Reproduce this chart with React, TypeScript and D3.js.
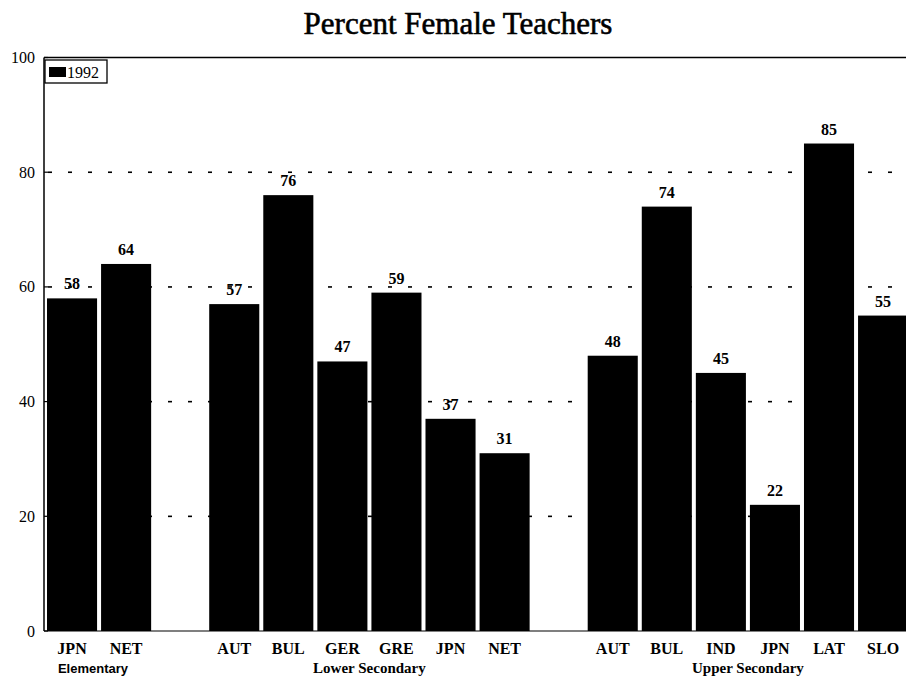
import React from "react";
import * as d3 from "d3";

const groups = ["Elementary", "Lower Secondary", "Upper Secondary"];
const elementaryCats = ["JPN", "NET"];
const elementaryVals = [58, 64];
const lowerCats = ["AUT", "BUL", "GER", "GRE", "JPN", "NET"];
const lowerVals = [57, 76, 47, 59, 37, 31];
const upperCats = ["AUT", "BUL", "IND", "JPN", "LAT", "SLO"];
const upperVals = [48, 74, 45, 22, 85, 55];
const yTicks = [0, 20, 40, 60, 80, 100];
const legendLabel = "1992";
const title = "Percent Female Teachers";

const W = 906;
const H = 681;

export default function App() {
  const groupData = [
    { name: groups[0], cats: elementaryCats, vals: elementaryVals },
    { name: groups[1], cats: lowerCats, vals: lowerVals },
    { name: groups[2], cats: upperCats, vals: upperVals },
  ];
  const slots: { key: string; cat?: string; val?: number; group: number }[] = [];
  groupData.forEach((g, gi) => {
    if (gi > 0) slots.push({ key: `gap${gi}`, group: -1 });
    g.cats.forEach((c, i) => slots.push({ key: `${gi}-${c}`, cat: c, val: g.vals[i], group: gi }));
  });

  const left = 44;
  const x = d3
    .scaleBand<string>()
    .domain(slots.map((s) => s.key))
    .range([left + 1, left + 1 + 54.07 * slots.length])
    .paddingInner(0.074)
    .paddingOuter(0.037);
  const y = d3.scaleLinear().domain([0, 100]).range([631, 57.5]);

  const font = "'Liberation Serif', 'Times New Roman', serif";
  const sans = "'Liberation Sans', Arial, sans-serif";
  const gridX = d3.range(left + 4, W, 20);

  return (
    <svg
      width={W}
      height={H}
      style={{ position: "absolute", left: 0, top: 0, background: "#fff" }}
      fontFamily={font}
    >
      <rect x={0} y={0} width={W} height={H} fill="#fff" />
      <text
        x={458}
        y={34}
        textAnchor="middle"
        fontSize={31}
        stroke="#000"
        strokeWidth={0.6}
        fill="#000"
      >
        {title}
      </text>
      {yTicks
        .filter((t) => t > 0 && t < 100)
        .map((t) => (
          <g key={`g${t}`}>
            {gridX.map((gx) => (
              <rect key={gx} x={gx} y={y(t) - 0.75} width={4} height={1.6} fill="#000" />
            ))}
          </g>
        ))}
      {slots
        .filter((s) => s.val !== undefined)
        .map((s) => (
          <rect
            key={s.key}
            x={x(s.key)}
            y={y(s.val!)}
            width={x.bandwidth()}
            height={y(0) - y(s.val!)}
            fill="#000"
          />
        ))}
      {slots
        .filter((s) => s.val !== undefined)
        .map((s) => (
          <text
            key={`v${s.key}`}
            x={x(s.key)! + x.bandwidth() / 2}
            y={y(s.val!) - 9}
            textAnchor="middle"
            fontSize={16}
            fontWeight="bold"
            fill="#000"
          >
            {s.val}
          </text>
        ))}
      <line x1={left} x2={left} y1={y(100)} y2={y(0)} stroke="#000" strokeWidth={1.5} />
      <line x1={left} x2={W} y1={y(100)} y2={y(100)} stroke="#000" strokeWidth={1.5} />
      <line x1={left} x2={W} y1={y(0)} y2={y(0)} stroke="#000" strokeWidth={1.2} />
      {yTicks.map((t) => (
        <g key={`t${t}`}>
          <line x1={left} x2={left + 4} y1={y(t)} y2={y(t)} stroke="#000" strokeWidth={1.2} />
          <text x={35} y={y(t) + 5.5} textAnchor="end" fontSize={16} fill="#000">
            {t}
          </text>
        </g>
      ))}
      {slots
        .filter((s) => s.cat)
        .map((s) => (
          <text
            key={`c${s.key}`}
            x={x(s.key)! + x.bandwidth() / 2}
            y={654}
            textAnchor="middle"
            fontSize={16}
            fontWeight="bold"
            fill="#000"
          >
            {s.cat}
          </text>
        ))}
      {groupData.map((g, gi) => {
        const ks = slots.filter((s) => s.group === gi);
        const x0 = x(ks[0].key)!;
        const x1 = x(ks[ks.length - 1].key)! + x.bandwidth();
        return (
          <text
            key={`grp${gi}`}
            x={gi === 0 ? 93 : (x0 + x1) / 2}
            y={673}
            textAnchor="middle"
            fontSize={gi === 0 ? 13 : 15}
            fontFamily={gi === 0 ? sans : font}
            fontWeight="bold"
            fill="#000"
          >
            {g.name}
          </text>
        );
      })}
      <rect x={45} y={60} width={62} height={23} fill="#fff" stroke="#000" strokeWidth={1.3} />
      <rect x={49} y={67} width={17} height={10} fill="#000" />
      <text x={67} y={77.5} fontSize={16} fill="#000">
        {legendLabel}
      </text>
    </svg>
  );
}
